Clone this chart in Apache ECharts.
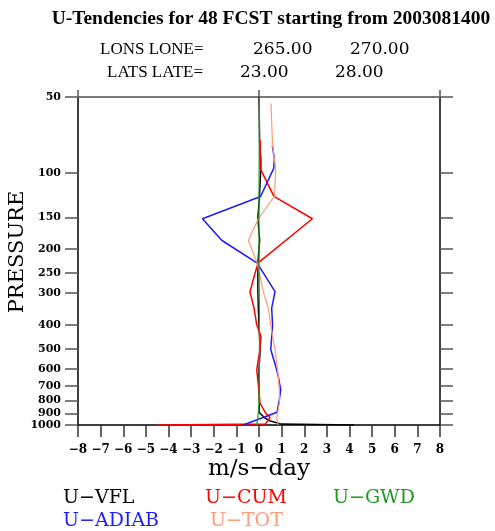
<!DOCTYPE html>
<html>
<head>
<meta charset="utf-8">
<script src="https://cdn.jsdelivr.net/npm/echarts@6/dist/echarts.min.js"></script>
<style>
html,body{margin:0;padding:0;background:#fff;}
#chart{width:495px;height:531px;}
</style>
</head>
<body>
<div id="chart"></div>
<script>
// Pressure levels (hPa), bottom to top
var levels = [1000, 992, 965, 936, 910, 890, 870, 818, 790, 725, 690, 640, 604, 550, 502, 446, 400, 344, 296, 228, 185, 152, 124, 96, 88, 78, 74, 63, 53, 50];
// values in m/s-day (null = no vertex at that level)
var uVFL   = [4.2, 1.0, 0.5, 0.25, null, 0.0, null, 0.02, null, 0.0, null, null, 0.0, null, 0.05, null, 0.0, -0.03, -0.05, -0.05, 0.03, -0.05, 0.02, 0.08, 0.08, 0.03, null, null, null, 0.0];
var uCUM   = [-4.5, 0.27, null, 0.49, null, 0.27, null, 0.04, null, null, -0.03, null, -0.1, null, 0.04, 0.09, -0.1, -0.22, -0.4, -0.05, null, 2.36, 0.66, 0.05, null, null, 0.05, null, null, null];
var uGWD   = [-0.1, null, null, -0.05, null, null, null, 0.0, null, null, null, null, 0.02, null, null, null, 0.02, null, null, 0.0, null, null, 0.0, null, null, null, null, null, null, 0.02];
var uADIAB = [-0.7, null, null, null, null, 0.8, null, null, 0.9, 0.96, null, 0.85, 0.78, null, 0.52, null, 0.6, 0.56, 0.71, -0.08, -1.65, -2.5, 0.07, 0.65, 0.68, 0.59, null, null, null, null];
var uTOT   = [0.85, null, null, 0.78, null, null, null, 0.9, null, 0.9, null, 0.85, null, null, 0.71, 0.6, null, 0.41, 0.19, -0.08, -0.47, -0.03, 0.68, 0.74, null, 0.6, null, 0.56, 0.53, null];

var yTicks = [50,100,150,200,250,300,400,500,600,700,800,900,1000];

var seriesNames  = ['U\u2212VFL', 'U\u2212CUM', 'U\u2212GWD', 'U\u2212ADIAB', 'U\u2212TOT'];
var seriesVals   = [uVFL, uCUM, uGWD, uADIAB, uTOT];
var seriesColors = ['#000000', '#ff0000', '#1f9a1f', '#1c1cff', '#ff9a78'];
var seriesWidths = [1.5, 1.5, 1.2, 1.5, 1.2];
var legendPos    = [[53, 484], [195, 484], [323, 484], [53, 507], [200, 507]];

function pairs(vals) {
  var out = [];
  for (var i = 0; i < levels.length; i++) {
    if (vals[i] !== null) out.push([vals[i], levels[i]]);
  }
  return out;
}

var serifFont = '"DejaVu Serif", "Liberation Serif", serif';
var libSerif = '"Liberation Serif", serif';

var series = seriesNames.map(function (n, k) {
  return {
    name: n, type: 'line', xAxisIndex: 0, yAxisIndex: 0,
    data: pairs(seriesVals[k]), showSymbol: false, symbol: 'none',
    lineStyle: { color: seriesColors[k], width: seriesWidths[k] },
    itemStyle: { color: seriesColors[k] },
    z: k === 2 ? 3 : 2
  };
});

var legends = seriesNames.map(function (n, k) {
  return {
    left: legendPos[k][0], top: legendPos[k][1],
    itemWidth: 0, itemHeight: 0, itemGap: 0,
    data: [{ name: n, icon: 'none', textStyle: { color: seriesColors[k] } }],
    textStyle: { fontFamily: serifFont, fontSize: 19, color: seriesColors[k] },
    selectedMode: false
  };
});

var subRich = {
  a1: { fontFamily: libSerif, fontSize: 17, fontWeight: 'normal', color: '#000', width: 153 },
  b1: { fontFamily: serifFont, fontSize: 17, fontWeight: 'normal', color: '#000', width: 97 },
  c1: { fontFamily: serifFont, fontSize: 17, fontWeight: 'normal', color: '#000' },
  a2: { fontFamily: libSerif, fontSize: 17, fontWeight: 'normal', color: '#000', width: 133 },
  b2: { fontFamily: serifFont, fontSize: 17, fontWeight: 'normal', color: '#000', width: 95 },
  c2: { fontFamily: serifFont, fontSize: 17, fontWeight: 'normal', color: '#000' }
};

var chart = echarts.init(document.getElementById('chart'), null, { renderer: 'canvas' });
chart.setOption({
  animation: false,
  backgroundColor: '#ffffff',
  title: [
    { text: 'U-Tendencies for 48 FCST starting from 2003081400', left: 266, top: 4, textAlign: 'center',
      textStyle: { fontFamily: libSerif, fontWeight: 'bold', fontSize: 19.5, color: '#000' } },
    { text: '{a1|LONS LONE=}{b1|265.00}{c1|270.00}', left: 95, top: 36,
      textStyle: { fontWeight: 'normal', rich: subRich } },
    { text: '{a2|LATS LATE=}{b2|23.00}{c2|28.00}', left: 102, top: 59,
      textStyle: { fontWeight: 'normal', rich: subRich } }
  ],
  legend: legends,
  grid: { left: 78, right: 55, top: 97, bottom: 106, containLabel: false, outerBoundsMode: 'none' },
  xAxis: [
    { type: 'value', position: 'bottom', min: -8, max: 8, interval: 1,
      axisLine: { show: true, onZero: false, lineStyle: { color: '#000', width: 1.5 } },
      axisTick: { show: true, inside: false, length: 12, lineStyle: { color: '#333', width: 1.5 } },
      axisLabel: { margin: 19, fontFamily: serifFont, fontWeight: 'bold', fontSize: 12, color: '#000',
        formatter: function (v) { return v < 0 ? '\u2212' + (-v) : String(v); } },
      splitLine: { show: false },
      name: 'm/s\u2212day', nameLocation: 'middle', nameGap: 33, nameMoveOverlap: false,
      nameTextStyle: { fontFamily: serifFont, fontSize: 23, color: '#000' } },
    { type: 'value', position: 'top', min: -8, max: 8, interval: 8,
      axisLine: { show: true, onZero: false, lineStyle: { color: '#777', width: 2 } },
      axisTick: { show: true, inside: false, length: 7, lineStyle: { color: '#555', width: 1.5 } },
      axisLabel: { show: false }, splitLine: { show: false } }
  ],
  yAxis: [
    { type: 'log', logBase: 10, inverse: true, min: 50, max: 1000, position: 'left',
      axisLine: { show: true, onZero: false, lineStyle: { color: '#000', width: 1.5 } },
      axisTick: { show: true, inside: false, length: 13, customValues: yTicks, lineStyle: { color: '#555', width: 1.5 } },
      axisLabel: { margin: 17, customValues: yTicks, fontFamily: serifFont, fontWeight: 'bold', fontSize: 11, color: '#000',
        formatter: function (v) { return String(Math.round(v)); } },
      splitLine: { show: false }, minorTick: { show: false },
      name: 'PRESSURE', nameLocation: 'middle', nameGap: 50, nameRotate: 90, nameMoveOverlap: false,
      nameTextStyle: { fontFamily: serifFont, fontSize: 21, color: '#000', padding: [0, 0, 0, 18] } },
    { type: 'log', logBase: 10, inverse: true, min: 50, max: 1000, position: 'right',
      axisLine: { show: true, onZero: false, lineStyle: { color: '#000', width: 1.5 } },
      axisTick: { show: true, inside: false, length: 13, customValues: yTicks, lineStyle: { color: '#555', width: 1.5 } },
      axisLabel: { show: false }, splitLine: { show: false } }
  ],
  series: series
});
</script>
</body>
</html>
